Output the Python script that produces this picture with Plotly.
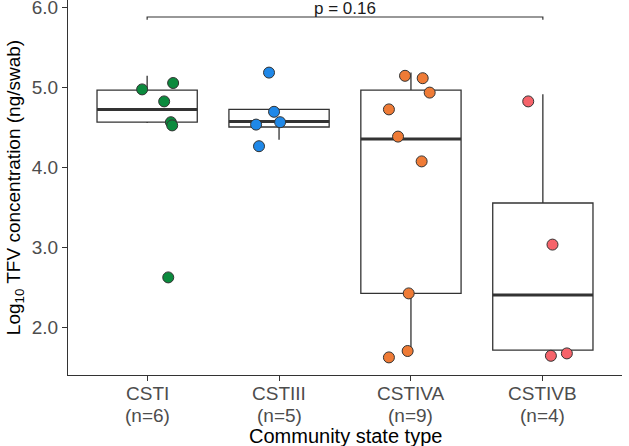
import plotly.graph_objects as go

categories = ["CSTI", "CSTIII", "CSTIVA", "CSTIVB"]
count_labels = ["(n=6)", "(n=5)", "(n=9)", "(n=4)"]
colors = ["#0B8A3D", "#1F88E8", "#EF7B36", "#F6636A"]

# box statistics
q1 = [4.56, 4.50, 2.42, 1.71]
median = [4.72, 4.57, 4.35, 2.40]
q3 = [4.96, 4.72, 4.96, 3.55]
lower_fence = [4.55, 4.34, 1.71, 1.71]
upper_fence = [5.14, 4.72, 5.18, 4.91]

# jittered points (value, horizontal jitter offset)
values = [
    [5.05, 4.97, 4.82, 4.56, 4.52, 2.62],
    [5.18, 4.69, 4.53, 4.56, 4.26],
    [5.14, 5.11, 4.93, 4.72, 4.38, 4.07, 2.42, 1.70, 1.62],
    [4.82, 3.03, 1.64, 1.67],
]
jitter = [
    [0.197, -0.038, 0.129, 0.18, 0.19, 0.16],
    [-0.076, -0.038, -0.174, 0.008, -0.152],
    [-0.045, 0.089, 0.142, -0.167, -0.098, 0.081, -0.017, -0.025, -0.167],
    [-0.111, 0.073, 0.061, 0.182],
]

y_ticks = [2, 3, 4, 5, 6]
y_tick_labels = ["2.0", "3.0", "4.0", "5.0", "6.0"]

p_label = "p = 0.16"
bracket_y = 5.875
bracket_tick = 5.84

box_w = 0.76
positions = [1, 2, 3, 4]
FONT = "Liberation Sans, Arial, sans-serif"

fig = go.Figure()

fig.add_trace(go.Box(
    x=positions, q1=q1, median=median, q3=q3,
    lowerfence=lower_fence, upperfence=upper_fence,
    width=box_w, whiskerwidth=0,
    fillcolor="white", line=dict(color="#333333", width=1.3),
    boxpoints=False, showlegend=False, hoverinfo="skip",
))

# thicker median lines
for p, m in zip(positions, median):
    fig.add_trace(go.Scatter(
        x=[p - box_w / 2, p + box_w / 2], y=[m, m], mode="lines",
        line=dict(color="#333333", width=3), showlegend=False, hoverinfo="skip",
    ))

for p, vals, jit, col in zip(positions, values, jitter, colors):
    fig.add_trace(go.Scatter(
        x=[p + j for j in jit], y=vals, mode="markers",
        marker=dict(size=11, color=col, line=dict(color="#333333", width=1)),
        showlegend=False,
    ))

# significance bracket
fig.add_trace(go.Scatter(
    x=[positions[0], positions[0], positions[-1], positions[-1]],
    y=[bracket_tick, bracket_y, bracket_y, bracket_tick],
    mode="lines", line=dict(color="#333333", width=1.2),
    showlegend=False, hoverinfo="skip",
))
fig.add_annotation(
    x=(positions[0] + positions[-1]) / 2, y=bracket_y, text=p_label,
    showarrow=False, yanchor="bottom", yshift=-3,
    font=dict(family=FONT, size=17, color="#1a1a1a"),
)

# category labels under the x axis (two lines each)
for p, name, cnt in zip(positions, categories, count_labels):
    fig.add_annotation(
        x=p, y=0, xref="x", yref="paper", text=name, showarrow=False,
        yanchor="top", yshift=-6,
        font=dict(family=FONT, size=19, color="#4D4D4D"),
    )
    fig.add_annotation(
        x=p, y=0, xref="x", yref="paper", text=cnt, showarrow=False,
        yanchor="top", yshift=-28,
        font=dict(family=FONT, size=19, color="#4D4D4D"),
    )

fig.add_annotation(
    x=0.5, y=0, xref="paper", yref="paper", text="Community state type",
    showarrow=False, yanchor="top", yshift=-48,
    font=dict(family=FONT, size=20, color="black"),
)

fig.update_layout(
    width=629, height=446,
    margin=dict(l=68, r=7, t=0, b=71),
    plot_bgcolor="white", paper_bgcolor="white",
    font=dict(family=FONT),
    xaxis=dict(
        range=[0.4, 4.6], tickvals=positions, showticklabels=False, automargin=False,
        showgrid=False, zeroline=False, showline=True, linecolor="#333333", linewidth=1.2,
        ticks="outside", ticklen=5, tickcolor="#333333", tickwidth=1.2,
    ),
    yaxis=dict(
        range=[1.4, 6.0875], tickvals=y_ticks, ticktext=y_tick_labels, automargin=False,
        ticklabeloverflow="allow",
        showgrid=False, zeroline=False, showline=True, linecolor="#333333", linewidth=1.2,
        ticks="outside", ticklen=5, tickcolor="#333333", tickwidth=1.2,
        tickfont=dict(size=19, color="#4D4D4D"),
        title=dict(text="Log<sub>10</sub> TFV concentration (ng/swab)",
                   font=dict(size=19, color="black"), standoff=6),
    ),
)

fig.write_html(
    "out.html",
    config={"displayModeBar": False},
    post_script="document.body.style.margin='0';document.body.style.overflow='hidden';",
)
